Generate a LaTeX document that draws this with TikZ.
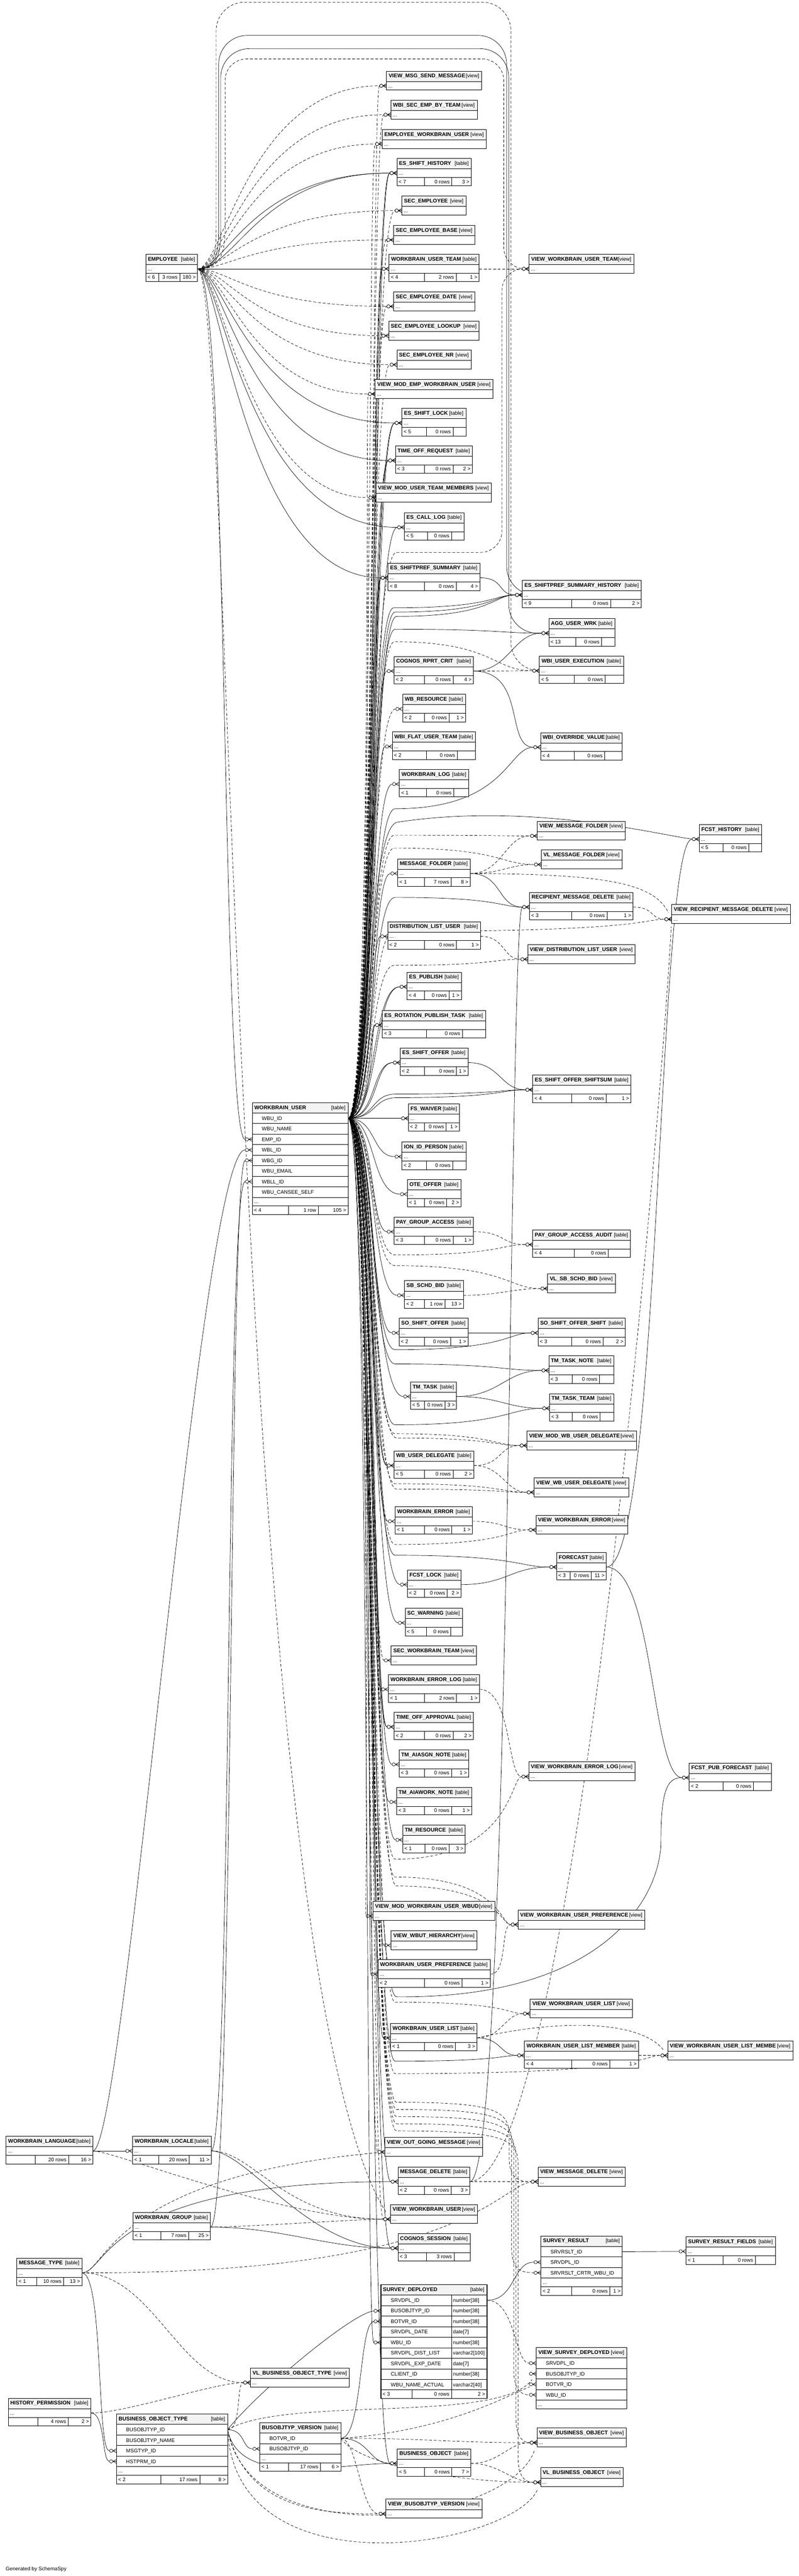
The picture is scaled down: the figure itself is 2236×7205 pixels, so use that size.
\documentclass[tikz,border=0pt]{standalone}
\usepackage{fontspec}
\setmainfont{Liberation Sans}
\usetikzlibrary{calc}
\pgfdeclarelayer{back}\pgfdeclarelayer{bg}\pgfsetlayers{back,bg,main}
\tikzset{
 bx/.style={line width=1.15pt},
 hf/.style={fill={rgb,255:red,243;green,243;blue,243}},
 tx/.style={inner sep=0pt,outer sep=0pt,font=\fontsize{14.5}{17}\selectfont},
 tb/.style={inner sep=0pt,outer sep=0pt,font=\fontsize{15}{17}\selectfont\bfseries},
 fk/.style={line width=1pt,shorten >=20pt},
 imp/.style={dash pattern=on 8pt off 5pt},
 mk/.style={line width=1pt,solid},
}
\newcommand\hdrH[6]{\fill[hf] (#2,#4) rectangle (#3,#4+29);\draw[bx] (#2,#4) rectangle (#3,#4+29);\node[tb,anchor=base west] (#1) at (#2+6,#4+18.5) {#5};\node[tx,anchor=base east] (#1-k) at (#3-7,#4+18.5) {[#6]};}
\newcommand\dotsR[4]{\draw[bx,fill=white] (#2,#4) rectangle (#3,#4+24);\node[tx,anchor=base west] (#1-dd) at (#2+5,#4+17) {...};}
\newcommand\footR[9]{\draw[bx,fill=white] (#2,#4) rectangle (#3,#4+24);\draw[bx] (#5,#4) -- (#5,#4+24) (#6,#4) -- (#6,#4+24);\node[tx,anchor=base west] (#1-fl) at (#2+5,#4+17) {#7};\node[tx,anchor=base east] (#1-fm) at (#6-6,#4+17) {#8};\node[tx,anchor=base east] (#1-fr) at (#3-5,#4+17) {#9};}
\newcommand\colR[6]{\draw[bx,fill=white] (#3,#5) rectangle (#4,#5+29.5);\node[tx,anchor=base west] (#1-t#2) at (#3+27,#5+20) {#6};\coordinate (#1-l#2) at (#3,#5+14.75);\coordinate (#1-r#2) at (#4,#5+14.75);}
\newcommand\sdR[4]{\draw[bx,fill=white] (1066,#2) rectangle (1264,#2+29.5) (1264,#2) rectangle (1363,#2+29.5);\node[tx,anchor=base west] (sd-t#1) at (1094,#2+20) {#3};\node[tx,anchor=base west] (sd-y#1) at (1268,#2+20) {#4};\coordinate (sd-l#1) at (1066,#2+14.75);\coordinate (sd-r#1) at (1363,#2+14.75);}
\newcommand\viewV[5]{\hdrH{#1}{#2}{#3}{#4}{#5}{view}\dotsR{#1}{#2}{#3}{#4+29}\coordinate (#1-l) at (#2,#4+41);\coordinate (#1-r) at (#3,#4+41);}
\newcommand\tabT[9]{\def\tbi{#1}\def\tba{#2}\def\tbb{#3}\def\tby{#4}\def\tbn{#5}\def\tbd{#6}\def\tbe{#7}\def\tbl{#8}\def\tbm{#9}\tabX}
\newcommand\tabX[1]{\hdrH{\tbi}{\tba}{\tbb}{\tby}{\tbn}{table}\dotsR{\tbi}{\tba}{\tbb}{\tby+29}\footR{\tbi}{\tba}{\tbb}{\tby+53}{\tbd}{\tbe}{\tbl}{\tbm}{#1}\coordinate (\tbi-l) at (\tba,\tby+41);\coordinate (\tbi-r) at (\tbb,\tby+41);}
\newcommand\crow[1]{\draw[mk] ($(#1)+(-10,0)$) -- ($(#1)+(0,-5.5)$) ($(#1)+(-10,0)$) -- (#1) ($(#1)+(-10,0)$) -- ($(#1)+(0,5.5)$);\draw[mk,fill=white] ($(#1)+(-14.8,0)$) circle[radius=4.6pt];}
\newcommand\relE[5][]{\draw[fk,#1] (#2) .. controls +(#4,0) and +(-#5,0) .. (#3);\crow{#3}}
\newcommand\empE[3][]{\draw[fk,#1] (emp-r) .. controls (#3,752) and (#3+70,0|-#2) .. (#2);\crow{#2}}
\newcommand\wuM[3][]{\draw[fk,#1] (wu-r) .. controls (#3+14,3128) and (#3,0|-#2) .. (#2);\crow{#2}}
\newcommand\wuR[5][]{\draw[fk,#1] (wu-r) .. controls (#3+14,3128) and (#3,#4) .. (#3+70,#4) .. controls (#5,#4) and (#5,0|-#2) .. (#2);\crow{#2}}
\newcommand\wuC[5][]{\draw[fk,#1] (wu-r) .. controls (1044,3128) and (1030,#3) .. (1110,#3) .. controls (#4-50,#3) and (#4,#3+20) .. (#4,#3+90) -- (#4,#5-70) .. controls (#4,#5-15) and (#4+20,#5) .. (#2);\crow{#2}}
\catcode`\_=12
\begin{document}
\begin{tikzpicture}[x=1pt,y=-1pt]
\useasboundingbox (0,0) rectangle (2236,7205);
\begin{pgfonlayer}{back}\fill[white] (0,0) rectangle (2236,7205);\end{pgfonlayer}
% ---------------- views
\viewV{vmsm}{1082}{1348}{199}{VIEW_MSG_SEND_MESSAGE}
\viewV{wsebt}{1094}{1336}{280}{WBI_SEC_EMP_BY_TEAM}
\viewV{ewu}{1070}{1361}{362}{EMPLOYEE_WORKBRAIN_USER}
\viewV{se}{1125}{1304}{548}{SEC_EMPLOYEE}
\viewV{seb}{1102}{1329}{630}{SEC_EMPLOYEE_BASE}
\viewV{vwut}{1481}{1774}{711}{VIEW_WORKBRAIN_USER_TEAM}
\viewV{sed}{1102}{1329}{816}{SEC_EMPLOYEE_DATE}
\viewV{sel}{1088}{1341}{898}{SEC_EMPLOYEE_LOOKUP}
\viewV{sen}{1111}{1319}{979}{SEC_EMPLOYEE_NR}
\viewV{vmewu}{1050}{1380}{1061}{VIEW_MOD_EMP_WORKBRAIN_USER}
\viewV{vmutm}{1052}{1375}{1351}{VIEW_MOD_USER_TEAM_MEMBERS}
\viewV{vmf}{1504}{1750}{2297}{VIEW_MESSAGE_FOLDER}
\viewV{vlmf}{1515}{1741}{2377}{VL_MESSAGE_FOLDER}
\viewV{vrmd}{1880}{2212}{2530}{VIEW_RECIPIENT_MESSAGE_DELETE}
\viewV{vdlu}{1477}{1778}{2642}{VIEW_DISTRIBUTION_LIST_USER}
\viewV{vlsb}{1533}{1722}{3563}{VL_SB_SCHD_BID}
\viewV{vmwud}{1475}{1781}{4002}{VIEW_MOD_WB_USER_DELEGATE}
\viewV{vwud}{1495}{1760}{4133}{VIEW_WB_USER_DELEGATE}
\viewV{vwe}{1500}{1757}{4238}{VIEW_WORKBRAIN_ERROR}
\viewV{swt}{1095}{1334}{4603}{SEC_WORKBRAIN_TEAM}
\viewV{vwel}{1480}{1777}{4928}{VIEW_WORKBRAIN_ERROR_LOG}
\viewV{vmwu}{1044}{1385}{5318}{VIEW_MOD_WORKBRAIN_USER_WBUD}
\viewV{vwup}{1450}{1805}{5342}{VIEW_WORKBRAIN_USER_PREFERENCE}
\viewV{vwh}{1095}{1335}{5400}{VIEW_WBUT_HIERARCHY}
\viewV{vwul}{1484}{1770}{5591}{VIEW_WORKBRAIN_USER_LIST}
\viewV{vwulm}{1869}{2219}{5708}{VIEW_WORKBRAIN_USER_LIST_MEMBE}
\viewV{vogm}{1077}{1351}{5978}{VIEW_OUT_GOING_MESSAGE}
\viewV{vmd}{1506}{1750}{6061}{VIEW_MESSAGE_DELETE}
\viewV{vwu}{1093}{1337}{6166}{VIEW_WORKBRAIN_USER}
\viewV{vlbot}{701}{978}{6623}{VL_BUSINESS_OBJECT_TYPE}
\viewV{vbtv}{1080}{1349}{6990}{VIEW_BUSOBJTYP_VERSION}
\viewV{vbo}{1503}{1753}{6791}{VIEW_BUSINESS_OBJECT}
\viewV{vlbo}{1513}{1744}{6902}{VL_BUSINESS_OBJECT}
% ---------------- compact tables
\tabT{emp}{408}{553}{711}{EMPLOYEE}{445}{503}{< 6}{3 rows}{180 >}
\tabT{esh}{1111}{1319}{443}{ES_SHIFT_HISTORY}{1188}{1265}{< 7}{0 rows}{3 >}
\tabT{wut}{1089}{1341}{711}{WORKBRAIN_USER_TEAM}{1188}{1277}{< 4}{2 rows}{1 >}
\tabT{esl}{1125}{1304}{1142}{ES_SHIFT_LOCK}{1194}{1268}{< 5}{0 rows}{}
\tabT{tor}{1107}{1322}{1247}{TIME_OFF_REQUEST}{1188}{1268}{< 3}{0 rows}{2 >}
\tabT{ecl}{1132}{1299}{1434}{ES_CALL_LOG}{1196}{1264}{< 5}{0 rows}{}
\tabT{ess}{1086}{1343}{1575}{ES_SHIFTPREF_SUMMARY}{1188}{1277}{< 8}{0 rows}{4 >}
\tabT{essh}{1462}{1795}{1623}{ES_SHIFTPREF_SUMMARY_HISTORY}{1600}{1709}{< 9}{0 rows}{2 >}
\tabT{agg}{1536}{1721}{1730}{AGG_USER_WRK}{1612}{1684}{< 13}{0 rows}{}
\tabT{crc}{1103}{1325}{1836}{COGNOS_RPRT_CRIT}{1188}{1268}{< 2}{0 rows}{4 >}
\tabT{wue}{1510}{1745}{1835}{WBI_USER_EXECUTION}{1607}{1694}{< 5}{0 rows}{}
\tabT{wbr}{1127}{1303}{1942}{WB_RESOURCE}{1188}{1257}{< 2}{0 rows}{1 >}
\tabT{fut}{1098}{1331}{2047}{WBI_FLAT_USER_TEAM}{1193}{1280}{< 2}{0 rows}{}
\tabT{ovr}{1513}{1742}{2049}{WBI_OVERRIDE_VALUE}{1607}{1693}{< 4}{0 rows}{}
\tabT{wlog}{1118}{1312}{2152}{WORKBRAIN_LOG}{1194}{1270}{< 1}{0 rows}{}
\tabT{fh}{1957}{2132}{2306}{FCST_HISTORY}{2024}{2096}{< 5}{0 rows}{}
\tabT{mf}{1113}{1316}{2402}{MESSAGE_FOLDER}{1188}{1263}{< 1}{7 rows}{8 >}
\tabT{rmd}{1482}{1772}{2496}{RECIPIENT_MESSAGE_DELETE}{1600}{1699}{< 3}{0 rows}{1 >}
\tabT{dlu}{1085}{1345}{2578}{DISTRIBUTION_LIST_USER}{1188}{1278}{< 2}{0 rows}{1 >}
\tabT{esp}{1139}{1291}{2719}{ES_PUBLISH}{1188}{1257}{< 4}{0 rows}{1 >}
\tabT{erpt}{1070}{1359}{2826}{ES_ROTATION_PUBLISH_TASK}{1193}{1294}{< 3}{0 rows}{}
\tabT{eso}{1120}{1310}{2931}{ES_SHIFT_OFFER}{1188}{1278}{< 2}{0 rows}{1 >}
\tabT{esos}{1491}{1766}{3007}{ES_SHIFT_OFFER_SHIFTSUM}{1600}{1697}{< 4}{0 rows}{1 >}
\tabT{fsw}{1143}{1286}{3087}{FS_WAIVER}{1188}{1249}{< 2}{0 rows}{1 >}
\tabT{iip}{1125}{1304}{3194}{ION_ID_PERSON}{1193}{1267}{< 2}{0 rows}{}
\tabT{ote}{1140}{1290}{3299}{OTE_OFFER}{1188}{1250}{< 1}{0 rows}{2 >}
\tabT{pga}{1103}{1325}{3404}{PAY_GROUP_ACCESS}{1188}{1268}{< 3}{0 rows}{1 >}
\tabT{pgaa}{1491}{1765}{3440}{PAY_GROUP_ACCESS_AUDIT}{1607}{1703}{< 4}{0 rows}{}
\tabT{sbb}{1132}{1297}{3582}{SB_SCHD_BID}{1188}{1245}{< 2}{1 row}{13 >}
\tabT{soo}{1117}{1310}{3687}{SO_SHIFT_OFFER}{1188}{1261}{< 2}{0 rows}{1 >}
\tabT{soos}{1506}{1750}{3687}{SO_SHIFT_OFFER_SHIFT}{1600}{1688}{< 3}{0 rows}{2 >}
\tabT{ttn}{1536}{1718}{3792}{TM_TASK_NOTE}{1601}{1678}{< 3}{0 rows}{}
\tabT{tt}{1149}{1278}{3865}{TM_TASK}{1188}{1245}{< 5}{0 rows}{3 >}
\tabT{ttt}{1538}{1718}{3898}{TM_TASK_TEAM}{1601}{1680}{< 3}{0 rows}{}
\tabT{wud}{1103}{1326}{4058}{WB_USER_DELEGATE}{1188}{1268}{< 5}{0 rows}{2 >}
\tabT{we}{1106}{1322}{4214}{WORKBRAIN_ERROR}{1188}{1265}{< 1}{0 rows}{1 >}
\tabT{fc}{1558}{1697}{4342}{FORECAST}{1596}{1655}{< 3}{0 rows}{11 >}
\tabT{fl}{1140}{1290}{4391}{FCST_LOCK}{1188}{1252}{< 2}{0 rows}{2 >}
\tabT{scw}{1134}{1294}{4498}{SC_WARNING}{1193}{1262}{< 5}{0 rows}{}
\tabT{wel}{1087}{1342}{4684}{WORKBRAIN_ERROR_LOG}{1188}{1278}{< 1}{2 rows}{1 >}
\tabT{toa}{1103}{1325}{4789}{TIME_OFF_APPROVAL}{1188}{1268}{< 2}{0 rows}{2 >}
\tabT{tan}{1117}{1312}{4894}{TM_AIASGN_NOTE}{1188}{1264}{< 3}{0 rows}{1 >}
\tabT{fpf}{1929}{2159}{4931}{FCST_PUB_FORECAST}{2024}{2109}{< 2}{0 rows}{}
\tabT{twn}{1110}{1320}{4999}{TM_AIAWORK_NOTE}{1188}{1264}{< 3}{0 rows}{1 >}
\tabT{tmr}{1127}{1302}{5105}{TM_RESOURCE}{1190}{1257}{< 1}{0 rows}{3 >}
\tabT{wup}{1058}{1372}{5481}{WORKBRAIN_USER_PREFERENCE}{1188}{1293}{< 2}{0 rows}{1 >}
\tabT{wul}{1093}{1335}{5659}{WORKBRAIN_USER_LIST}{1188}{1275}{< 1}{0 rows}{3 >}
\tabT{wulm}{1468}{1787}{5708}{WORKBRAIN_USER_LIST_MEMBER}{1600}{1707}{< 4}{0 rows}{1 >}
\tabT{md}{1114}{1315}{6061}{MESSAGE_DELETE}{1188}{1263}{< 2}{0 rows}{3 >}
\tabT{cs}{1114}{1316}{6247}{COGNOS_SESSION}{1193}{1271}{< 3}{3 rows}{}
\tabT{srf}{1920}{2170}{6256}{SURVEY_RESULT_FIELDS}{2023}{2114}{< 1}{0 rows}{}
\tabT{wlang}{17}{260}{5975}{WORKBRAIN_LANGUAGE}{98}{192}{}{20 rows}{16 >}
\tabT{wloc}{371}{591}{5975}{WORKBRAIN_LOCALE}{445}{530}{< 1}{20 rows}{11 >}
\tabT{wg}{372}{589}{6188}{WORKBRAIN_GROUP}{450}{528}{< 1}{7 rows}{25 >}
\tabT{mt}{47}{229}{6316}{MESSAGE_TYPE}{103}{178}{< 1}{10 rows}{13 >}
\tabT{hp}{23}{254}{6708}{HISTORY_PERMISSION}{106}{191}{}{4 rows}{2 >}
\tabT{bo}{1112}{1318}{6849}{BUSINESS_OBJECT}{1188}{1265}{< 5}{0 rows}{7 >}
% ---------------- tables with columns
\hdrH{wu}{706}{974}{3084}{WORKBRAIN_USER}{table}
\colR{wu}{1}{706}{974}{3113}{WBU_ID}
\colR{wu}{2}{706}{974}{3142.5}{WBU_NAME}
\colR{wu}{3}{706}{974}{3172}{EMP_ID}
\colR{wu}{4}{706}{974}{3201.5}{WBL_ID}
\colR{wu}{5}{706}{974}{3231}{WBG_ID}
\colR{wu}{6}{706}{974}{3260.5}{WBU_EMAIL}
\colR{wu}{7}{706}{974}{3290}{WBLL_ID}
\colR{wu}{8}{706}{974}{3319.5}{WBU_CANSEE_SELF}
\dotsR{wu}{706}{974}{3349}
\footR{wu}{706}{974}{3373}{808}{891}{< 4}{1 row}{105 >}
\coordinate (wu-r) at (wu-r1);
\hdrH{bot}{326}{637}{6752}{BUSINESS_OBJECT_TYPE}{table}
\colR{bot}{1}{326}{637}{6781}{BUSOBJTYP_ID}
\colR{bot}{2}{326}{637}{6810.5}{BUSOBJTYP_NAME}
\colR{bot}{3}{326}{637}{6840}{MSGTYP_ID}
\colR{bot}{4}{326}{637}{6869.5}{HSTPRM_ID}
\dotsR{bot}{326}{637}{6899}
\footR{bot}{326}{637}{6923}{450}{559}{< 2}{17 rows}{8 >}
\hdrH{botv}{727}{954}{6776}{BUSOBJTYP_VERSION}{table}
\colR{botv}{1}{727}{954}{6805}{BOTVR_ID}
\colR{botv}{2}{727}{954}{6834.5}{BUSOBJTYP_ID}
\dotsR{botv}{727}{954}{6864}
\footR{botv}{727}{954}{6888}{808}{897}{< 1}{17 rows}{6 >}
\hdrH{sr}{1514}{1742}{6254}{SURVEY_RESULT}{table}
\colR{sr}{1}{1514}{1742}{6283}{SRVRSLT_ID}
\colR{sr}{2}{1514}{1742}{6312.5}{SRVDPL_ID}
\colR{sr}{3}{1514}{1742}{6342}{SRVRSLT_CRTR_WBU_ID}
\dotsR{sr}{1514}{1742}{6371.5}
\footR{sr}{1514}{1742}{6395.5}{1600}{1707}{< 2}{0 rows}{1 >}
\hdrH{vsd}{1501}{1754}{6566}{VIEW_SURVEY_DEPLOYED}{view}
\colR{vsd}{1}{1501}{1754}{6595}{SRVDPL_ID}
\colR{vsd}{2}{1501}{1754}{6624.5}{BUSOBJTYP_ID}
\colR{vsd}{3}{1501}{1754}{6654}{BOTVR_ID}
\colR{vsd}{4}{1501}{1754}{6683.5}{WBU_ID}
\dotsR{vsd}{1501}{1754}{6713}
\hdrH{sd}{1066}{1363}{6390}{SURVEY_DEPLOYED}{table}
\sdR{1}{6419}{SRVDPL_ID}{number[38]}
\sdR{2}{6448.5}{BUSOBJTYP_ID}{number[38]}
\sdR{3}{6478}{BOTVR_ID}{number[38]}
\sdR{4}{6507.5}{SRVDPL_DATE}{date[7]}
\sdR{5}{6537}{WBU_ID}{number[38]}
\sdR{6}{6566.5}{SRVDPL_DIST_LIST}{varchar2[100]}
\sdR{7}{6596}{SRVDPL_EXP_DATE}{date[7]}
\sdR{8}{6625.5}{CLIENT_ID}{number[38]}
\sdR{9}{6655}{WBU_NAME_ACTUAL}{varchar2[40]}
\footR{sd}{1066}{1363}{6684.5}{1153}{1264}{< 3}{0 rows}{2 >}
\draw[line width=2.8pt] (1066,6390) rectangle (1363,6708.5);
\node[tx,anchor=base west] (gen) at (16,7190) {Generated by SchemaSpy};
% ---------------- connectors
\begin{pgfonlayer}{bg}
% EMPLOYEE children
\empE[imp]{vmsm-l}{625}
\empE[imp]{wsebt-l}{628}
\empE[imp]{ewu-l}{631}
\empE{esh-l}{634}
\empE{esh-l}{660}
\empE[imp]{se-l}{637}
\empE[imp]{seb-l}{640}
\empE{wut-l}{640}
\empE[imp]{sed-l}{640}
\empE[imp]{sel-l}{637}
\empE[imp]{sen-l}{634}
\empE[imp]{vmewu-l}{631}
\empE{esl-l}{628}
\empE{tor-l}{625}
\empE[imp]{vmutm-l}{622}
\empE{ecl-l}{619}
\empE{ess-l}{616}
\draw[fk,imp] (emp-r) .. controls (598,752) and (605,720) .. (605,640) [rounded corners=80pt] |- (1430,6) |- (wue-l);\crow{wue-l}
\draw[fk] (emp-r) .. controls (600,752) and (612,720) .. (612,640) [rounded corners=80pt] |- (1418,99) |- (essh-l);\crow{essh-l}
\draw[fk] (emp-r) .. controls (605,752) and (618,720) .. (618,640) [rounded corners=80pt] |- (1424,136) |- (agg-l);\crow{agg-l}
\draw[fk,imp] (emp-r) .. controls (610,752) and (630,720) .. (630,640) [rounded corners=60pt] |- (1410,165) |- (vwut-l);\crow{vwut-l}
\draw[fk] (emp-r) .. controls (640,752) and (620,3187) .. (wu-l3);\crow{wu-l3}
\draw[fk,imp] (emp-r) .. controls (650,752) and (640,5500) .. (vwu-l);\crow{vwu-l}
% WORKBRAIN_USER children, middle column
\wuM[imp]{vmsm-l}{1040}
\wuM[imp]{wsebt-l}{1036}
\wuM[imp]{ewu-l}{1030}
\wuM{esh-l}{1044}
\wuM{esh-l}{1038}
\wuM[imp]{se-l}{1034}
\wuM[imp]{seb-l}{1032}
\wuM{wut-l}{1040}
\wuM[imp]{sed-l}{1036}
\wuM[imp]{sel-l}{1030}
\wuM[imp]{sen-l}{1034}
\wuM[imp]{vmewu-l}{1024}
\wuM{esl-l}{1042}
\wuM{esl-l}{1036}
\wuM{tor-l}{1040}
\wuM{tor-l}{1034}
\wuM[imp]{vmutm-l}{1026}
\wuM{ecl-l}{1038}
\wuM{ess-l}{1044}
\wuM{ess-l}{1038}
\wuM{ess-l}{1032}
\wuM{crc-l}{1036}
\wuM[imp]{wbr-l}{1034}
\wuM{fut-l}{1040}
\wuM{wlog-l}{1036}
\wuM{mf-l}{1038}
\wuM{dlu-l}{1034}
\wuM{esp-l}{1040}
\wuM{esp-l}{1046}
\wuM{erpt-l}{1030}
\wuM{erpt-l}{1036}
\wuM{eso-l}{1040}
\wuM{eso-l}{1046}
\wuM{fsw-l}{1040}
\wuM{fsw-l}{1060}
\wuM{iip-l}{1040}
\wuM{ote-l}{1038}
\wuM{pga-l}{1036}
\wuM{sbb-l}{1038}
\wuM{soo-l}{1036}
\wuM{tt-l}{1040}
\wuM{wud-l}{1036}
\wuM{wud-l}{1042}
\wuM{we-l}{1038}
\wuM{fl-l}{1040}
\wuM{scw-l}{1038}
\wuM[imp]{swt-l}{1036}
\wuM{wel-l}{1034}
\wuM{toa-l}{1036}
\wuM{toa-l}{1042}
\wuM{tan-l}{1038}
\wuM{twn-l}{1036}
\wuM{tmr-l}{1040}
\wuM[imp]{vmwu-l}{1024}
\wuM[imp]{vwh-l}{1034}
\wuM{wup-l}{1030}
\wuM{wul-l}{1036}
\wuM[imp]{vogm-l}{1030}
\wuM{md-l}{1034}
\wuM[imp]{vwu-l}{1036}
\wuM{cs-l}{1034}
\wuM{sd-l5}{1022}
\wuM{bo-l}{1028}
% WORKBRAIN_USER children, right column
\wuR{essh-l}{1032}{1700}{1380}
\wuR{essh-l}{1036}{1712}{1380}
\wuR{essh-l}{1040}{1724}{1380}
\wuR{agg-l}{1036}{1760}{1400}
\wuR[imp]{wue-l}{1034}{1795}{1380}
\wuR{ovr-l}{1036}{2262}{1420}
\wuR[imp]{vmf-l}{1034}{2336}{1400}
\wuR[imp]{vlmf-l}{1034}{2372}{1400}
\wuR{rmd-l}{1036}{2510}{1400}
\wuR[imp]{vrmd-l}{1034}{2605}{1800}
\wuR[imp]{vdlu-l}{1034}{2700}{1380}
\wuR{esos-l}{1038}{3060}{1400}
\wuR{esos-l}{1042}{3070}{1400}
\wuR[imp]{pgaa-l}{1036}{3510}{1400}
\wuR[imp]{vlsb-l}{1036}{3540}{1420}
\wuR{soos-l}{1036}{3775}{1420}
\wuR{ttn-l}{1036}{3815}{1400}
\wuR{ttt-l}{1036}{3985}{1420}
\wuR[imp]{vmwud-l}{1036}{4010}{1380}
\wuR[imp]{vmwud-l}{1040}{4022}{1380}
\wuR[imp]{vwud-l}{1036}{4150}{1400}
\wuR[imp]{vwud-l}{1040}{4165}{1400}
\wuR[imp]{vwe-l}{1036}{4320}{1420}
\wuR{fc-l}{1036}{4350}{1450}
\wuR[imp]{vwel-l}{1036}{5200}{1430}
\wuR[imp]{vwup-l}{1036}{5250}{1400}
\wuR[imp]{vwup-l}{1040}{5275}{1400}
\wuR[imp]{vwul-l}{1036}{5600}{1420}
\wuR{wulm-l}{1036}{5765}{1400}
\wuR[imp]{vwulm-l}{1036}{5800}{1800}
\wuC[imp]{vmd-l}{5880}{1425}{6102}
\wuC[imp]{sr-l3}{5900}{1432}{6356.75}
\wuC[imp]{vsd-l4}{5920}{1438}{6698.25}
\wuC[imp]{vbo-l}{5940}{1444}{6832}
\wuC[imp]{vlbo-l}{5960}{1450}{6943}
\draw[fk] (wu-r) .. controls (1044,3128) and (1022,2330) .. (1110,2300) .. controls (1500,2240) and (1880,2344) .. (fh-l);\crow{fh-l}
\draw[fk] (wu-r) .. controls (1044,3128) and (1026,5580) .. (1110,5585) .. controls (1700,5590) and (1850,5300) .. (1850,5150) .. controls (1850,5000) and (1870,4972) .. (fpf-l);\crow{fpf-l}
\draw[fk,imp] (wu-r) .. controls (1044,3128) and (1030,1545) .. (1110,1545) [rounded corners=60pt] -| (1405,752) -- (vwut-l);\crow{vwut-l}
% other relationships
\relE[imp]{wut-r}{vwut-l}{60}{60}
\relE{ess-r}{essh-l}{70}{70}
\relE{crc-r}{agg-l}{100}{100}
\relE[imp]{crc-r}{wue-l}{60}{60}
\relE{crc-r}{ovr-l}{150}{100}
\relE[imp]{mf-r}{vmf-l}{90}{90}
\relE[imp]{mf-r}{vlmf-l}{90}{90}
\relE{mf-r}{rmd-l}{90}{90}
\draw[fk,imp] (mf-r) .. controls (1700,2445) and (1830,2470) .. (vrmd-l);\crow{vrmd-l}
\relE[imp]{rmd-r}{vrmd-l}{60}{60}
\relE[imp]{dlu-r}{vdlu-l}{70}{70}
\relE{eso-r}{esos-l}{90}{90}
\relE[imp]{pga-r}{pgaa-l}{90}{90}
\relE[imp]{sbb-r}{vlsb-l}{100}{100}
\draw[fk,line width=0.6pt] (soo-r) -- (soos-l);\crow{soos-l}
\relE{tt-r}{ttn-l}{120}{120}
\relE{tt-r}{ttt-l}{120}{120}
\relE[imp]{wud-r}{vmwud-l}{80}{80}
\relE[imp]{wud-r}{vwud-l}{80}{80}
\relE[imp]{we-r}{vwe-l}{90}{90}
\relE{fl-r}{fc-l}{130}{130}
\relE[imp]{wel-r}{vwel-l}{90}{60}
\relE[imp]{wup-r}{vwup-l}{50}{50}
\relE[imp]{wul-r}{vwul-l}{70}{70}
\relE{wul-r}{wulm-l}{70}{70}
\draw[fk,imp] (wul-r) .. controls (1600,5640) and (1800,5660) .. (vwulm-l);\crow{vwulm-l}
\relE[imp]{wulm-r}{vwulm-l}{40}{40}
\relE[imp]{md-r}{vmd-l}{80}{80}
\draw[fk] (md-r) .. controls (1430,6102) and (1425,2537) .. (rmd-l);\crow{rmd-l}
\draw[fk,imp] (md-r) .. controls (1600,6090) and (1845,3200) .. (vrmd-l);\crow{vrmd-l}
\draw[fk] (fc-r) .. controls (1850,4383) and (1840,2347) .. (fh-l);\crow{fh-l}
\draw[fk] (fc-r) .. controls (1830,4383) and (1825,4972) .. (fpf-l);\crow{fpf-l}
\relE{sr-r1}{srf-l}{60}{60}
\relE{sd-r1}{sr-l2}{80}{80}
\relE[imp]{sd-r1}{vsd-l1}{80}{60}
\relE{wlang-r}{wloc-l}{40}{40}
\relE[imp]{wlang-r}{vwu-l}{60}{300}
\relE[imp]{wloc-r}{vwu-l}{120}{300}
\relE{wloc-r}{cs-l}{100}{250}
\relE[imp]{wg-r}{vwu-l}{100}{100}
\relE{wg-r}{cs-l}{200}{200}
\draw[fk] (wlang-r) .. controls (350,6016) and (560,3216) .. (wu-l4);\crow{wu-l4}
\draw[fk] (wg-r) .. controls (655,6229) and (640,3246) .. (wu-l5);\crow{wu-l5}
\draw[fk] (wloc-r) .. controls (648,6016) and (632,3305) .. (wu-l7);\crow{wu-l7}
\draw[fk] (mt-r) .. controls (300,6357) and (290,6102) .. (md-l);\crow{md-l}
\draw[fk,imp] (mt-r) .. controls (300,6357) and (300,6090) .. (vogm-l);\crow{vogm-l}
\draw[fk,imp] (mt-r) .. controls (1300,6360) and (1400,6110) .. (vmd-l);\crow{vmd-l}
\relE[imp]{mt-r}{vlbot-l}{200}{200}
\draw[fk] (mt-r) .. controls (290,6357) and (270,6855) .. (bot-l3);\crow{bot-l3}
\draw[fk] (hp-r) .. controls (295,6747) and (285,6884) .. (bot-l4);\crow{bot-l4}
\relE[imp]{hp-r}{vlbot-l}{100}{100}
\relE[imp]{bot-r1}{vlbot-l}{40}{40}
\relE{bot-r1}{botv-l2}{50}{50}
\draw[fk] (bot-r1) .. controls (720,6690) and (990,6466) .. (sd-l2);\crow{sd-l2}
\draw[fk] (botv-r1) .. controls (1015,6820) and (1005,6495) .. (sd-l3);\crow{sd-l3}
\draw[fk,imp] (bot-r1) .. controls (800,6700) and (1400,6780) .. (vsd-l2);\crow{vsd-l2}
\draw[fk,imp] (botv-r1) .. controls (1250,6800) and (1420,6700) .. (vsd-l3);\crow{vsd-l3}
\relE{botv-r1}{bo-l}{80}{80}
\draw[fk] (bot-r1) .. controls (670,6960) and (950,6890) .. (bo-l);\crow{bo-l}
\draw[fk,imp] (botv-r1) .. controls (1000,6820) and (1010,7031) .. (vbtv-l);\crow{vbtv-l}
\draw[fk,imp] (bot-r1) .. controls (690,7020) and (900,7031) .. (vbtv-l);\crow{vbtv-l}
\relE[imp]{bo-r}{vbo-l}{80}{80}
\relE[imp]{bo-r}{vlbo-l}{80}{80}
\relE[imp]{botv-r1}{vbo-l}{250}{250}
\draw[fk,imp] (botv-r1) .. controls (1010,6900) and (1300,6943) .. (vlbo-l);\crow{vlbo-l}
\draw[fk,imp] (bot-r1) .. controls (700,7150) and (1430,7060) .. (vbo-l);\crow{vbo-l}
\draw[fk,imp] (bot-r1) .. controls (660,7260) and (1440,7120) .. (vlbo-l);\crow{vlbo-l}
\end{pgfonlayer}
\end{tikzpicture}
\end{document}
